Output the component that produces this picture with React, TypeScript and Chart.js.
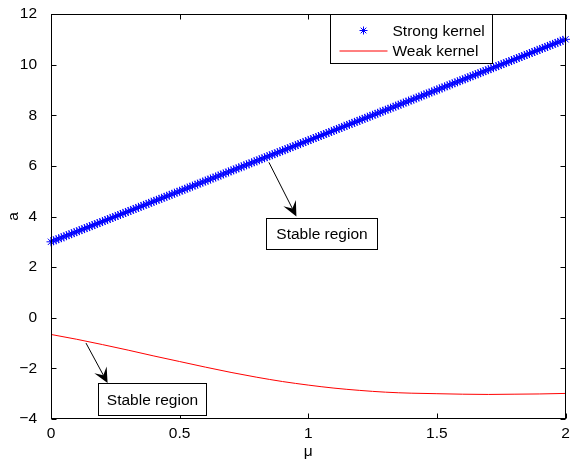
import React, { useEffect, useRef } from 'react';
import { Chart, registerables } from 'chart.js';

Chart.register(...registerables);

const FONT_FAMILY = '"Liberation Sans", Arial, Helvetica, sans-serif';
const FONT_SIZE = 15.5;

// Strong kernel (asterisk markers)
const muStrong = [
  0.00, 0.01, 0.02, 0.03, 0.04, 0.05, 0.06, 0.07, 0.08, 0.09,
  0.10, 0.11, 0.12, 0.13, 0.14, 0.15, 0.16, 0.17, 0.18, 0.19,
  0.20, 0.21, 0.22, 0.23, 0.24, 0.25, 0.26, 0.27, 0.28, 0.29,
  0.30, 0.31, 0.32, 0.33, 0.34, 0.35, 0.36, 0.37, 0.38, 0.39,
  0.40, 0.41, 0.42, 0.43, 0.44, 0.45, 0.46, 0.47, 0.48, 0.49,
  0.50, 0.51, 0.52, 0.53, 0.54, 0.55, 0.56, 0.57, 0.58, 0.59,
  0.60, 0.61, 0.62, 0.63, 0.64, 0.65, 0.66, 0.67, 0.68, 0.69,
  0.70, 0.71, 0.72, 0.73, 0.74, 0.75, 0.76, 0.77, 0.78, 0.79,
  0.80, 0.81, 0.82, 0.83, 0.84, 0.85, 0.86, 0.87, 0.88, 0.89,
  0.90, 0.91, 0.92, 0.93, 0.94, 0.95, 0.96, 0.97, 0.98, 0.99,
  1.00, 1.01, 1.02, 1.03, 1.04, 1.05, 1.06, 1.07, 1.08, 1.09,
  1.10, 1.11, 1.12, 1.13, 1.14, 1.15, 1.16, 1.17, 1.18, 1.19,
  1.20, 1.21, 1.22, 1.23, 1.24, 1.25, 1.26, 1.27, 1.28, 1.29,
  1.30, 1.31, 1.32, 1.33, 1.34, 1.35, 1.36, 1.37, 1.38, 1.39,
  1.40, 1.41, 1.42, 1.43, 1.44, 1.45, 1.46, 1.47, 1.48, 1.49,
  1.50, 1.51, 1.52, 1.53, 1.54, 1.55, 1.56, 1.57, 1.58, 1.59,
  1.60, 1.61, 1.62, 1.63, 1.64, 1.65, 1.66, 1.67, 1.68, 1.69,
  1.70, 1.71, 1.72, 1.73, 1.74, 1.75, 1.76, 1.77, 1.78, 1.79,
  1.80, 1.81, 1.82, 1.83, 1.84, 1.85, 1.86, 1.87, 1.88, 1.89,
  1.90, 1.91, 1.92, 1.93, 1.94, 1.95, 1.96, 1.97, 1.98, 1.99,
  2.00,
];
const aStrong = [
  3.00, 3.04, 3.08, 3.12, 3.16, 3.20, 3.24, 3.28, 3.32, 3.36,
  3.40, 3.44, 3.48, 3.52, 3.56, 3.60, 3.64, 3.68, 3.72, 3.76,
  3.80, 3.84, 3.88, 3.92, 3.96, 4.00, 4.04, 4.08, 4.12, 4.16,
  4.20, 4.24, 4.28, 4.32, 4.36, 4.40, 4.44, 4.48, 4.52, 4.56,
  4.60, 4.64, 4.68, 4.72, 4.76, 4.80, 4.84, 4.88, 4.92, 4.96,
  5.00, 5.04, 5.08, 5.12, 5.16, 5.20, 5.24, 5.28, 5.32, 5.36,
  5.40, 5.44, 5.48, 5.52, 5.56, 5.60, 5.64, 5.68, 5.72, 5.76,
  5.80, 5.84, 5.88, 5.92, 5.96, 6.00, 6.04, 6.08, 6.12, 6.16,
  6.20, 6.24, 6.28, 6.32, 6.36, 6.40, 6.44, 6.48, 6.52, 6.56,
  6.60, 6.64, 6.68, 6.72, 6.76, 6.80, 6.84, 6.88, 6.92, 6.96,
  7.00, 7.04, 7.08, 7.12, 7.16, 7.20, 7.24, 7.28, 7.32, 7.36,
  7.40, 7.44, 7.48, 7.52, 7.56, 7.60, 7.64, 7.68, 7.72, 7.76,
  7.80, 7.84, 7.88, 7.92, 7.96, 8.00, 8.04, 8.08, 8.12, 8.16,
  8.20, 8.24, 8.28, 8.32, 8.36, 8.40, 8.44, 8.48, 8.52, 8.56,
  8.60, 8.64, 8.68, 8.72, 8.76, 8.80, 8.84, 8.88, 8.92, 8.96,
  9.00, 9.04, 9.08, 9.12, 9.16, 9.20, 9.24, 9.28, 9.32, 9.36,
  9.40, 9.44, 9.48, 9.52, 9.56, 9.60, 9.64, 9.68, 9.72, 9.76,
  9.80, 9.84, 9.88, 9.92, 9.96, 10.00, 10.04, 10.08, 10.12, 10.16,
  10.20, 10.24, 10.28, 10.32, 10.36, 10.40, 10.44, 10.48, 10.52, 10.56,
  10.60, 10.64, 10.68, 10.72, 10.76, 10.80, 10.84, 10.88, 10.92, 10.96,
  11.00,
];

// Weak kernel (red line)
const muWeak = [0, 0.1, 0.2, 0.3, 0.4, 0.5, 0.6, 0.7, 0.8, 0.9, 1.0, 1.1, 1.2, 1.3, 1.4, 1.5, 1.6, 1.7, 1.8, 1.9, 2.0];
const aWeak = [-0.66, -0.85, -1.06, -1.28, -1.51, -1.73, -1.95, -2.16, -2.35, -2.52, -2.66, -2.78, -2.87, -2.94, -2.98, -3.00, -3.02, -3.03, -3.02, -3.01, -2.99];

const seriesLabels = ['Strong kernel', 'Weak kernel'];
const xTicks = [0, 0.5, 1, 1.5, 2];
const yTicks = [-4, -2, 0, 2, 4, 6, 8, 10, 12];
const xTitle = 'μ';
const yTitle = 'a';
const annotationText = 'Stable region';

// Annotations in data coordinates [mu, a]
const arrow1From = [0.847, 6.14];
const arrow1To = [0.954, 4.0];
const box1Mu = [0.834, 1.266];
const box1A = [3.94, 2.72];
const arrow2From = [0.136, -1.0];
const arrow2To = [0.22, -2.58];
const box2Mu = [0.181, 0.601];
const box2A = [-2.58, -3.86];

const font = `${FONT_SIZE}px ${FONT_FAMILY}`;

function drawArrow(ctx: CanvasRenderingContext2D, x0: number, y0: number, x1: number, y1: number) {
  const ang = Math.atan2(y1 - y0, x1 - x0);
  const c = Math.cos(ang), s = Math.sin(ang);
  const len = 15, half = 7, notch = 9;
  ctx.beginPath();
  ctx.moveTo(x0, y0);
  ctx.lineTo(x1 - c * notch, y1 - s * notch);
  ctx.stroke();
  const bx = x1 - c * len, by = y1 - s * len;
  const nx = -s, ny = c;
  ctx.beginPath();
  ctx.moveTo(x1, y1);
  ctx.lineTo(bx + nx * half, by + ny * half);
  ctx.lineTo(x1 - c * notch, y1 - s * notch);
  ctx.lineTo(bx - nx * half, by - ny * half);
  ctx.closePath();
  ctx.fill();
}

function drawBox(ctx: CanvasRenderingContext2D, l: number, t: number, r: number, b: number, text: string) {
  l = Math.round(l) + 0.5; t = Math.round(t) + 0.5; r = Math.round(r) + 0.5; b = Math.round(b) + 0.5;
  ctx.fillStyle = '#fff';
  ctx.fillRect(l, t, r - l, b - t);
  ctx.strokeRect(l, t, r - l, b - t);
  ctx.fillStyle = '#000';
  ctx.font = font;
  ctx.textAlign = 'center';
  ctx.textBaseline = 'middle';
  ctx.fillText(text, (l + r) / 2, (t + b) / 2 + 1);
}

function drawStar(ctx: CanvasRenderingContext2D, cx: number, cy: number, r: number) {
  ctx.beginPath();
  ctx.moveTo(cx - r, cy); ctx.lineTo(cx + r, cy);
  ctx.moveTo(cx, cy - r); ctx.lineTo(cx, cy + r);
  const d = r * Math.SQRT1_2;
  ctx.moveTo(cx - d, cy - d); ctx.lineTo(cx + d, cy + d);
  ctx.moveTo(cx - d, cy + d); ctx.lineTo(cx + d, cy - d);
  ctx.stroke();
}

const decorPlugin = {
  id: 'decor',
  afterDatasetsDraw(chart: any) {
    const { ctx, chartArea: ca, scales } = chart;
    const x = scales.x, y = scales.y;
    ctx.save();
    ctx.strokeStyle = '#000';
    ctx.fillStyle = '#000';
    ctx.lineWidth = 1;
    const L = Math.round(ca.left) + 0.5, R = Math.round(ca.right) - 0.5;
    const T = Math.round(ca.top) + 0.5, B = Math.round(ca.bottom) - 0.5;
    ctx.strokeRect(L, T, R - L, B - T);
    const tl = 5;
    ctx.beginPath();
    for (const v of xTicks) {
      const px = Math.round(x.getPixelForValue(v)) + 0.5;
      ctx.moveTo(px, B); ctx.lineTo(px, B - tl);
      ctx.moveTo(px, T); ctx.lineTo(px, T + tl);
    }
    for (const v of yTicks) {
      const py = Math.round(y.getPixelForValue(v)) + 0.5;
      ctx.moveTo(L, py); ctx.lineTo(L + tl, py);
      ctx.moveTo(R, py); ctx.lineTo(R - tl, py);
    }
    ctx.stroke();

    // annotations
    drawArrow(ctx, x.getPixelForValue(arrow1From[0]), y.getPixelForValue(arrow1From[1]),
      x.getPixelForValue(arrow1To[0]), y.getPixelForValue(arrow1To[1]));
    drawBox(ctx, x.getPixelForValue(box1Mu[0]), y.getPixelForValue(box1A[0]),
      x.getPixelForValue(box1Mu[1]), y.getPixelForValue(box1A[1]), annotationText);
    ctx.fillStyle = '#000';
    drawArrow(ctx, x.getPixelForValue(arrow2From[0]), y.getPixelForValue(arrow2From[1]),
      x.getPixelForValue(arrow2To[0]), y.getPixelForValue(arrow2To[1]));
    drawBox(ctx, x.getPixelForValue(box2Mu[0]), y.getPixelForValue(box2A[0]),
      x.getPixelForValue(box2Mu[1]), y.getPixelForValue(box2A[1]), annotationText);

    // legend
    const lw = 162, lh = 49;
    const lr = Math.round(ca.right - 74) + 0.5;
    const ll = lr - lw;
    const lt = T;
    ctx.fillStyle = '#fff';
    ctx.fillRect(ll, lt, lw, lh);
    ctx.strokeStyle = '#000';
    ctx.strokeRect(ll, lt, lw, lh);
    const ds = chart.data.datasets;
    const row1 = lt + 16, row2 = lt + 36;
    ctx.strokeStyle = ds[0].borderColor;
    ctx.lineWidth = 1;
    drawStar(ctx, ll + 33, row1, 4);
    ctx.strokeStyle = ds[1].borderColor;
    ctx.beginPath();
    ctx.moveTo(ll + 9, row2 + 0.5); ctx.lineTo(ll + 57, row2 + 0.5);
    ctx.stroke();
    ctx.fillStyle = '#000';
    ctx.font = font;
    ctx.textAlign = 'left';
    ctx.textBaseline = 'middle';
    ctx.fillText(ds[0].label, ll + 62, row1 + 1);
    ctx.fillText(ds[1].label, ll + 62, row2 + 1);
    ctx.restore();
  },
};

export default function App() {
  const canvasRef = useRef<HTMLCanvasElement | null>(null);

  useEffect(() => {
    const canvas = canvasRef.current;
    if (!canvas) return;
    const tickFont = { family: FONT_FAMILY, size: FONT_SIZE };
    const chart = new Chart(canvas, {
      type: 'line',
      data: {
        datasets: [
          {
            label: seriesLabels[0],
            data: muStrong.map((m, i) => ({ x: m, y: aStrong[i] })),
            showLine: false,
            pointStyle: 'star',
            pointRadius: 4.5,
            pointBorderWidth: 1,
            borderColor: '#0000ff',
            backgroundColor: '#0000ff',
            borderWidth: 1,
            clip: false,
          } as any,
          {
            label: seriesLabels[1],
            data: muWeak.map((m, i) => ({ x: m, y: aWeak[i] })),
            borderColor: '#ff0000',
            backgroundColor: '#ff0000',
            borderWidth: 1,
            pointRadius: 0,
            cubicInterpolationMode: 'monotone',
            fill: false,
          } as any,
        ],
      },
      options: {
        animation: false,
        responsive: false,
        devicePixelRatio: 1,
        layout: { padding: { top: 14, right: 3, left: 0, bottom: 0 } },
        plugins: { legend: { display: false }, tooltip: { enabled: false } },
        scales: {
          x: {
            type: 'linear',
            min: 0,
            max: 2,
            afterBuildTicks: (s: any) => { s.ticks = xTicks.map((v) => ({ value: v })); },
            ticks: { font: tickFont, color: '#000', padding: -3, maxRotation: 0, callback: (v: any) => String(v) },
            grid: { display: false },
            border: { display: false },
            title: { display: true, text: xTitle, font: tickFont, color: '#000', padding: { top: 0, bottom: 0 } },
            afterFit: (s: any) => { s.height = 42; s.paddingLeft = 0; s.paddingRight = 0; },
          },
          y: {
            type: 'linear',
            min: -4,
            max: 12,
            afterBuildTicks: (s: any) => { s.ticks = yTicks.map((v) => ({ value: v })); },
            ticks: { font: tickFont, color: '#000', padding: 6, callback: (v: any) => String(v).replace('-', '\u2212') },
            grid: { display: false },
            border: { display: false },
            title: { display: true, text: yTitle, font: tickFont, color: '#000', padding: { top: 4, bottom: 0 } },
            afterFit: (s: any) => { s.width = 51; s.paddingTop = 0; s.paddingBottom = 0; },
          },
        },
      },
      plugins: [decorPlugin],
    });
    return () => chart.destroy();
  }, []);

  return (
    <div style={{ position: 'fixed', left: 0, top: 0, width: 571, height: 461, background: '#fff' }}>
      <canvas ref={canvasRef} width={571} height={461} style={{ width: 571, height: 461, display: 'block' }} />
    </div>
  );
}
